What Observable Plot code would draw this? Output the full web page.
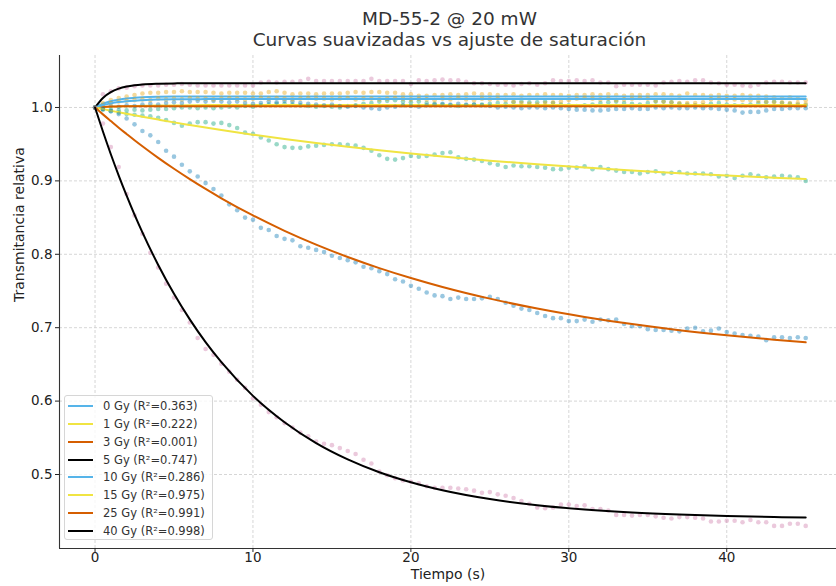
<!DOCTYPE html>
<html><head><meta charset="utf-8">
<script src="https://cdn.jsdelivr.net/npm/d3@7"></script>
<script src="https://cdn.jsdelivr.net/npm/@observablehq/plot@0.6"></script>
<style>
body{margin:0;background:#fff;font-family:"DejaVu Sans",sans-serif;}
#wrap{position:relative;width:836px;height:586px;overflow:hidden;background:#fff;}
#wrap svg{position:absolute;left:0;top:0;}
#title{position:absolute;left:59px;width:781px;top:9px;text-align:center;font-size:18.5px;line-height:20.7px;color:#333;z-index:2;}
#legend{position:absolute;left:64px;top:395px;width:149px;height:145px;background:rgba(255,255,255,0.8);border:1px solid #d6d6d6;border-radius:3px;box-sizing:border-box;font-size:11.5px;color:#333;z-index:2;}
.row{position:absolute;left:0;height:18px;display:flex;align-items:center;white-space:nowrap;}
.sw{width:25px;height:0;border-top:2px solid;margin-left:3px;margin-right:10px;}
</style></head><body><div id="wrap"></div>
<script>
// ---- data ----
const seriesNames = ["0 Gy","1 Gy","3 Gy","5 Gy","10 Gy","15 Gy","25 Gy","40 Gy"];
const r2Labels = ["0.363","0.222","0.001","0.747","0.286","0.975","0.991","0.998"];
const lineColors = ["#56B4E9","#F0E442","#D55E00","#000000","#56B4E9","#F0E442","#D55E00","#000000"];
const dotColors = ["#E69F00","#009E73","#0072B2","#CC79A7","#E69F00","#009E73","#0072B2","#CC79A7"];
const xTicks = [0,10,20,30,40];
const yTicks = [0.5,0.6,0.7,0.8,0.9,1.0];

const tDots = [0,0.5,1,1.5,2,2.5,3,3.5,4,4.5,
5,5.5,6,6.5,7,7.5,8,8.5,9,9.5,
10,10.5,11,11.5,12,12.5,13,13.5,14,14.5,
15,15.5,16,16.5,17,17.5,18,18.5,19,19.5,
20,20.5,21,21.5,22,22.5,23,23.5,24,24.5,
25,25.5,26,26.5,27,27.5,28,28.5,29,29.5,
30,30.5,31,31.5,32,32.5,33,33.5,34,34.5,
35,35.5,36,36.5,37,37.5,38,38.5,39,39.5,
40,40.5,41,41.5,42,42.5,43,43.5,44,44.5,
45];

const dots0 = [1.000,1.006,1.010,1.013,1.015,1.017,1.019,1.020,1.020,1.021,
1.021,1.022,1.021,1.021,1.021,1.020,1.019,1.020,1.020,1.020,
1.019,1.019,1.021,1.022,1.020,1.018,1.019,1.019,1.018,1.019,
1.019,1.019,1.020,1.021,1.020,1.021,1.021,1.020,1.020,1.018,
1.018,1.016,1.016,1.017,1.017,1.018,1.017,1.018,1.019,1.018,
1.018,1.017,1.017,1.018,1.016,1.017,1.017,1.018,1.017,1.017,
1.016,1.017,1.017,1.018,1.017,1.018,1.017,1.016,1.017,1.017,
1.017,1.018,1.018,1.017,1.016,1.019,1.017,1.017,1.016,1.017,
1.016,1.016,1.017,1.016,1.016,1.015,1.014,1.013,1.014,1.012,
1.010];
const dots1 = [1.000,0.998,0.997,0.996,0.996,0.997,0.996,0.997,0.998,0.998,
0.999,1.000,1.000,0.999,1.000,0.999,1.000,1.001,1.000,1.002,
1.001,1.003,1.004,1.005,1.005,1.004,1.003,1.002,1.001,1.002,
1.001,1.000,1.002,1.003,1.005,1.006,1.008,1.009,1.010,1.008,
1.007,1.008,1.006,1.005,1.004,1.003,1.002,1.003,1.004,1.004,
1.005,1.006,1.005,1.007,1.008,1.007,1.007,1.008,1.006,1.004,
1.003,1.002,1.003,1.004,1.006,1.007,1.008,1.006,1.005,1.004,
1.006,1.008,1.008,1.007,1.005,1.004,1.003,1.003,1.005,1.006,
1.004,1.003,1.003,1.004,1.006,1.007,1.008,1.006,1.005,1.004,
1.003];
const dots3 = [1.000,1.001,1.002,1.001,1.003,1.002,1.004,1.005,1.004,1.006,
1.007,1.006,1.008,1.009,1.008,1.009,1.008,1.007,1.008,1.006,
1.005,1.006,1.008,1.007,1.009,1.008,1.006,1.005,1.004,1.003,
1.004,1.002,1.001,1.002,1.000,0.999,0.998,1.000,1.001,1.003,
1.002,1.001,1.003,1.004,1.005,1.004,1.005,1.004,1.004,1.003,
1.002,1.000,1.001,1.000,0.999,1.000,1.000,0.999,1.000,0.999,
0.998,0.997,0.997,0.996,0.996,0.997,0.998,0.998,0.999,0.998,
0.998,1.000,0.999,1.000,0.999,0.999,1.000,0.999,0.999,0.998,
0.997,0.996,0.993,0.994,0.994,0.996,0.998,0.998,0.999,0.999,
0.999];
const dots5 = [1.000,1.018,1.022,1.026,1.027,1.029,1.030,1.030,1.030,1.031,
1.031,1.032,1.031,1.030,1.030,1.030,1.030,1.030,1.030,1.030,
1.030,1.034,1.035,1.034,1.035,1.035,1.036,1.039,1.036,1.036,
1.036,1.036,1.036,1.036,1.036,1.039,1.036,1.036,1.036,1.036,
1.032,1.037,1.036,1.037,1.038,1.037,1.037,1.035,1.033,1.033,
1.032,1.031,1.031,1.030,1.032,1.033,1.031,1.033,1.037,1.036,
1.036,1.037,1.036,1.037,1.034,1.034,1.029,1.031,1.031,1.031,
1.031,1.030,1.034,1.035,1.036,1.035,1.037,1.037,1.034,1.033,
1.031,1.031,1.030,1.029,1.031,1.034,1.035,1.035,1.034,1.034,
1.034];
const dots10 = [1.000,1.004,1.006,1.008,1.009,1.010,1.011,1.010,1.012,1.011,
1.012,1.011,1.013,1.012,1.012,1.011,1.012,1.013,1.012,1.011,
1.012,1.013,1.012,1.013,1.012,1.011,1.012,1.013,1.012,1.012,
1.011,1.012,1.013,1.011,1.012,1.012,1.011,1.012,1.013,1.012,
1.011,1.012,1.011,1.010,1.012,1.011,1.013,1.011,1.010,1.012,
1.011,1.012,1.010,1.008,1.006,1.005,1.004,1.006,1.007,1.008,
1.010,1.012,1.013,1.012,1.011,1.012,1.010,1.011,1.012,1.013,
1.012,1.009,1.008,1.007,1.006,1.006,1.006,1.007,1.011,1.012,
1.011,1.011,1.010,1.010,1.009,1.008,1.007,1.007,1.006,1.006,
1.005];
const dots15 = [1.000,0.997,0.995,0.993,0.991,0.990,0.989,0.988,0.986,0.983,
0.979,0.975,0.978,0.980,0.980,0.978,0.979,0.976,0.972,0.966,
0.964,0.959,0.955,0.950,0.946,0.945,0.945,0.947,0.948,0.949,
0.950,0.950,0.949,0.948,0.945,0.941,0.935,0.930,0.929,0.931,
0.934,0.933,0.934,0.936,0.938,0.939,0.932,0.930,0.929,0.927,
0.924,0.922,0.919,0.921,0.920,0.920,0.919,0.918,0.916,0.916,
0.918,0.918,0.920,0.916,0.919,0.916,0.914,0.912,0.912,0.910,
0.912,0.913,0.910,0.911,0.912,0.910,0.910,0.910,0.909,0.906,
0.907,0.904,0.907,0.909,0.907,0.905,0.906,0.907,0.906,0.905,
0.900];
const dots25 = [1.000,0.998,0.995,0.991,0.985,0.977,0.968,0.962,0.953,0.941,
0.933,0.922,0.913,0.906,0.897,0.889,0.880,0.868,0.860,0.850,
0.847,0.836,0.833,0.825,0.821,0.819,0.811,0.809,0.806,0.803,
0.798,0.795,0.792,0.789,0.783,0.781,0.777,0.773,0.766,0.763,
0.757,0.753,0.748,0.744,0.743,0.739,0.741,0.739,0.739,0.740,
0.742,0.739,0.734,0.730,0.726,0.724,0.720,0.716,0.713,0.713,
0.709,0.709,0.711,0.708,0.711,0.710,0.711,0.705,0.702,0.702,
0.698,0.697,0.697,0.696,0.695,0.699,0.700,0.695,0.696,0.699,
0.694,0.692,0.690,0.689,0.688,0.683,0.687,0.687,0.686,0.687,
0.686];
const dots40 = [1.000,0.978,0.946,0.919,0.882,0.853,0.828,0.802,0.782,0.760,
0.741,0.724,0.707,0.686,0.671,0.663,0.651,0.640,0.629,0.618,
0.604,0.595,0.585,0.578,0.570,0.564,0.557,0.552,0.545,0.542,
0.540,0.536,0.532,0.528,0.520,0.515,0.504,0.499,0.495,0.492,
0.490,0.488,0.484,0.482,0.482,0.482,0.481,0.480,0.478,0.475,
0.476,0.473,0.471,0.468,0.464,0.460,0.455,0.454,0.455,0.459,
0.459,0.457,0.458,0.453,0.453,0.451,0.445,0.445,0.444,0.445,
0.445,0.443,0.441,0.440,0.442,0.442,0.441,0.440,0.436,0.436,
0.437,0.437,0.435,0.438,0.435,0.435,0.430,0.430,0.433,0.433,
0.430];

const tFit = [0,0.5,1,1.5,2,2.5,3,4,5,6,7,8,10,12,14,16,18,20,22,25,28,31,34,37,40,43,45];
const fit0 = [1.0000,1.0051,1.0085,1.0107,1.0122,1.0131,1.0138,1.0145,1.0148,1.0149,1.0150,1.0150,1.0150,1.0150,1.0150,1.0150,1.0150,1.0150,1.0150,1.0150,1.0150,1.0150,1.0150,1.0150,1.0150,1.0150,1.0150];
const fit1 = [1.0000,1.0005,1.0010,1.0014,1.0017,1.0020,1.0022,1.0026,1.0028,1.0030,1.0032,1.0033,1.0034,1.0034,1.0035,1.0035,1.0035,1.0035,1.0035,1.0035,1.0035,1.0035,1.0035,1.0035,1.0035,1.0035,1.0035];
const fit3 = [1.0000,1.0008,1.0013,1.0015,1.0017,1.0017,1.0018,1.0018,1.0018,1.0018,1.0018,1.0018,1.0018,1.0018,1.0018,1.0018,1.0018,1.0018,1.0018,1.0018,1.0018,1.0018,1.0018,1.0018,1.0018,1.0018,1.0018];
const fit5 = [1.0000,1.0130,1.0209,1.0256,1.0285,1.0303,1.0314,1.0324,1.0328,1.0329,1.0330,1.0330,1.0330,1.0330,1.0330,1.0330,1.0330,1.0330,1.0330,1.0330,1.0330,1.0330,1.0330,1.0330,1.0330,1.0330,1.0330];
const fit10 = [1.0000,1.0033,1.0056,1.0073,1.0085,1.0093,1.0099,1.0107,1.0111,1.0113,1.0114,1.0115,1.0115,1.0115,1.0115,1.0115,1.0115,1.0115,1.0115,1.0115,1.0115,1.0115,1.0115,1.0115,1.0115,1.0115,1.0115];
const fit15 = [1.0000,0.9978,0.9956,0.9935,0.9914,0.9894,0.9874,0.9835,0.9797,0.9761,0.9726,0.9692,0.9629,0.9569,0.9515,0.9464,0.9416,0.9372,0.9331,0.9275,0.9225,0.9181,0.9141,0.9105,0.9073,0.9044,0.9027];
const fit25 = [1.0000,0.9906,0.9815,0.9725,0.9639,0.9554,0.9472,0.9314,0.9165,0.9024,0.8890,0.8763,0.8529,0.8320,0.8132,0.7963,0.7812,0.7677,0.7555,0.7396,0.7261,0.7147,0.7049,0.6966,0.6896,0.6836,0.6801];
const fit40 = [1.0000,0.9672,0.9363,0.9073,0.8799,0.8541,0.8299,0.7855,0.7462,0.7113,0.6803,0.6530,0.6071,0.5712,0.5428,0.5206,0.5031,0.4894,0.4786,0.4666,0.4582,0.4524,0.4483,0.4455,0.4435,0.4421,0.4415];

const xDomain = [-2.25, 46.95];
const yDomain = [0.3992, 1.0708];

// ---- build ----
const dotSeries = [dots0, dots1, dots3, dots5, dots10, dots15, dots25, dots40];
const fitSeries = [fit0, fit1, fit3, fit5, fit10, fit15, fit25, fit40];

const gridStyle = {stroke: "#cccccc", strokeOpacity: 1, strokeWidth: 0.8, strokeDasharray: "3,2"};
const marks = [
  Plot.gridX(xTicks, gridStyle),
  Plot.gridY(yTicks, gridStyle)
];
seriesNames.forEach((name, i) => {
  const dd = tDots.map((t, j) => ({t, v: dotSeries[i][j]}));
  const ff = tFit.map((t, j) => ({t, v: fitSeries[i][j]}));
  marks.push(Plot.dot(dd, {x: "t", y: "v", r: 2.3, fill: dotColors[i], fillOpacity: 0.4, stroke: "none"}));
  marks.push(Plot.line(ff, {x: "t", y: "v", stroke: lineColors[i], strokeWidth: 2, curve: "monotone-x"}));
});
marks.push(
  Plot.ruleX([xDomain[0]], {stroke: "#333", strokeWidth: 1.1}),
  Plot.ruleY([yDomain[0]], {stroke: "#333", strokeWidth: 1.1}),
  Plot.axisX(xTicks, {tickSize: 4, tickPadding: 0, label: null, tickFormat: d => String(d)}),
  Plot.axisY(yTicks, {tickSize: 4, tickPadding: 3, label: null, tickFormat: d3.format(".1f")}),
  Plot.text(["Tiempo (s)"], {text: d => d, frameAnchor: "bottom", dy: 30, fontSize: 14, fill: "#222"}),
  Plot.text(["Transmitancia relativa"], {text: d => d, frameAnchor: "left", dx: -40, rotate: -90, fontSize: 14, fill: "#222"})
);

const chart = Plot.plot({
  width: 836, height: 586,
  marginTop: 55, marginBottom: 38, marginLeft: 59, marginRight: 0,
  x: {domain: xDomain},
  y: {domain: yDomain},
  style: {fontFamily: "DejaVu Sans", fontSize: "13.5px", color: "#222", background: "transparent", overflow: "visible"},
  marks
});

const wrap = document.getElementById("wrap");
wrap.appendChild(chart);

const title = document.createElement("div");
title.id = "title";
title.innerHTML = "MD-55-2 @ 20 mW<br>Curvas suavizadas vs ajuste de saturación";
wrap.appendChild(title);

const legend = document.createElement("div");
legend.id = "legend";
seriesNames.forEach((name, i) => {
  const row = document.createElement("div");
  row.className = "row";
  row.style.top = (1 + i * 17.86) + "px";
  const sw = document.createElement("span");
  sw.className = "sw";
  sw.style.borderTopColor = lineColors[i];
  const tx = document.createElement("span");
  tx.textContent = name + " (R\u00B2=" + r2Labels[i] + ")";
  row.appendChild(sw);
  row.appendChild(tx);
  legend.appendChild(row);
});
wrap.appendChild(legend);
</script>
</body></html>
